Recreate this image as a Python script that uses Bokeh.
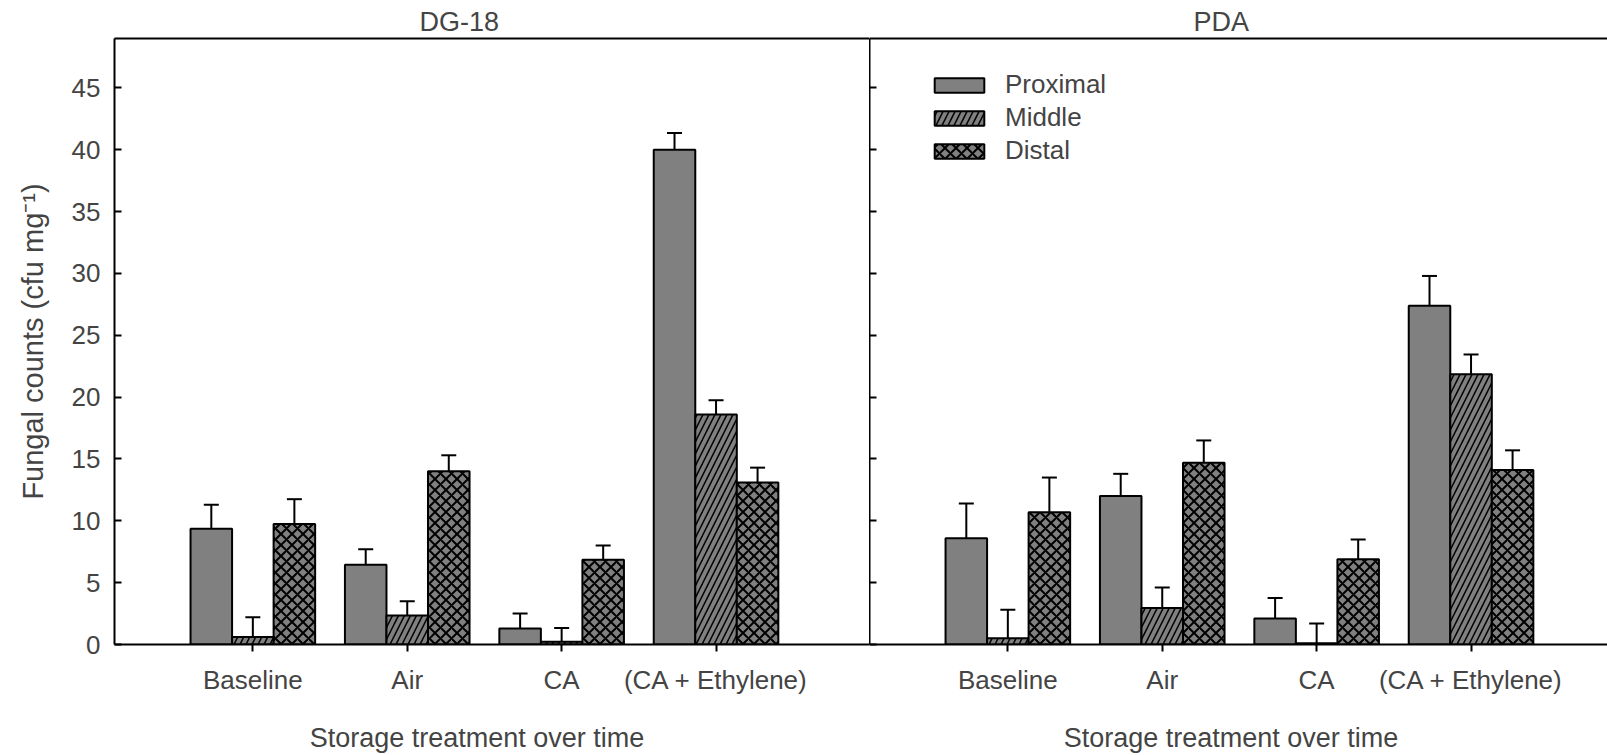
from bokeh.plotting import figure
from bokeh.models import (Range1d, FixedTicker, LinearAxis, Whisker, TeeHead,
                          ColumnDataSource, Legend, LegendItem)
from bokeh.layouts import row
from bokeh.embed import file_html
from bokeh.resources import INLINE

FONT = "Liberation Sans"
TICK_PX = "26px"
TITLE_PX = "27px"
NBSP = "\u00a0"

categories = ["Baseline", "Air", "CA", "(CA + Ethylene)"]
series = ["Proximal", "Middle", "Distal"]
y_ticks = [0, 5, 10, 15, 20, 25, 30, 35, 40, 45]
x_title = "Storage treatment over time"

# DG-18 medium
dg18_proximal = [9.35, 6.45, 1.3, 40.0]
dg18_proximal_err = [1.95, 1.25, 1.2, 1.35]
dg18_middle = [0.6, 2.35, 0.23, 18.6]
dg18_middle_err = [1.6, 1.15, 1.1, 1.15]
dg18_distal = [9.75, 14.0, 6.85, 13.1]
dg18_distal_err = [2.0, 1.3, 1.15, 1.2]

# PDA medium
pda_proximal = [8.6, 12.0, 2.1, 27.4]
pda_proximal_err = [2.8, 1.8, 1.65, 2.4]
pda_middle = [0.5, 2.95, 0.1, 21.85]
pda_middle_err = [2.3, 1.65, 1.6, 1.6]
pda_distal = [10.7, 14.7, 6.9, 14.1]
pda_distal_err = [2.8, 1.8, 1.6, 1.6]

BAR_W = 0.269
X_START = 0.104
PX_PER_UNIT = 154.4
STYLES = {
    "Proximal": dict(hatch_pattern=" ", hatch_scale=8, hatch_weight=1),
    "Middle": dict(hatch_pattern="/", hatch_scale=12, hatch_weight=1.5),
    "Distal": dict(hatch_pattern="x", hatch_scale=11, hatch_weight=2.0),
}


def frame_line_axis():
    # an axis with no ticks or labels, used only for the frame's top edge
    return LinearAxis(ticker=FixedTicker(ticks=[]), axis_line_width=2,
                      major_tick_in=0, major_tick_out=0,
                      minor_tick_in=0, minor_tick_out=0,
                      major_label_standoff=0)


def panel(title, title_offset, xlabel_pad, data, width, left_border, x_end,
          show_y_labels):
    p = figure(width=width, height=755, x_range=Range1d(X_START, x_end),
               y_range=Range1d(0, 49), output_backend="svg",
               toolbar_location=None, min_border_left=left_border,
               min_border_right=0, min_border_top=38, min_border_bottom=111,
               outline_line_color=None, background_fill_color="white",
               border_fill_color="white")
    p.grid.visible = False

    xa = p.below[0]
    ya = p.left[0]

    p.title.text = title
    p.title.align = "left"
    p.title.offset = title_offset
    p.title.text_font = FONT
    p.title.text_font_size = TITLE_PX
    p.title.text_font_style = "normal"
    p.title.standoff = 4

    p.add_layout(frame_line_axis(), "above")

    # x axis: one tick under each treatment group
    xa.ticker = FixedTicker(ticks=[1, 2, 3, 4])
    xa.major_label_overrides = {i + 1: c for i, c in enumerate(categories)}
    xa.major_tick_in = 0
    xa.major_tick_out = 7
    xa.minor_tick_out = 0
    xa.minor_tick_in = 0
    xa.axis_line_width = 2
    xa.major_tick_line_width = 2
    xa.major_label_text_font = FONT
    xa.major_label_text_font_size = TICK_PX
    xa.major_label_standoff = 13
    # trailing no-break spaces nudge the centred title slightly left
    xa.axis_label = x_title + NBSP * xlabel_pad
    xa.axis_label_text_font = FONT
    xa.axis_label_text_font_size = TITLE_PX
    xa.axis_label_text_font_style = "normal"
    xa.axis_label_standoff = 25

    # y axis: ticks pointing into the frame
    ya.ticker = FixedTicker(ticks=y_ticks)
    ya.major_tick_in = 7
    ya.major_tick_out = 0
    ya.minor_tick_in = 0
    ya.minor_tick_out = 0
    ya.axis_line_width = 2
    ya.major_tick_line_width = 2
    if show_y_labels:
        ya.major_label_text_font = FONT
        ya.major_label_text_font_size = TICK_PX
        ya.major_label_standoff = 14
        ya.axis_label = "Fungal counts (cfu mg\u207b\u00b9)"
        ya.axis_label_text_font = FONT
        ya.axis_label_text_font_size = "29px"
        ya.axis_label_text_font_style = "normal"
        ya.axis_label_standoff = 20
    else:
        ya.major_label_overrides = {t: "" for t in y_ticks}
        ya.major_label_standoff = 0

    renderers = {}
    for k, name in enumerate(series):
        vals, errs = data[name]
        xs = [i + 1 + (k - 1) * BAR_W for i in range(len(categories))]
        src = ColumnDataSource(dict(
            x=xs, top=vals, up=[v + e for v, e in zip(vals, errs)]))
        p.add_layout(Whisker(source=src, base="x", lower="top", upper="up",
                             dimension="height", line_width=2,
                             line_color="black", lower_head=None,
                             upper_head=TeeHead(size=15, line_width=2,
                                                line_color="black")))
        renderers[name] = p.vbar(x="x", top="top", bottom=0, width=BAR_W,
                                 source=src, fill_color="#808080",
                                 line_color="black", line_width=2,
                                 hatch_color="black", **STYLES[name])
    return p, renderers


left, _ = panel("DG-18", 305, 4,
                {"Proximal": (dg18_proximal, dg18_proximal_err),
                 "Middle": (dg18_middle, dg18_middle_err),
                 "Distal": (dg18_distal, dg18_distal_err)},
                width=869, left_border=114,
                x_end=X_START + 755 / PX_PER_UNIT, show_y_labels=True)

right, rr = panel("PDA", 324, 2,
                  {"Proximal": (pda_proximal, pda_proximal_err),
                   "Middle": (pda_middle, pda_middle_err),
                   "Distal": (pda_distal, pda_distal_err)},
                  width=738, left_border=0,
                  x_end=X_START + 738 / PX_PER_UNIT, show_y_labels=False)

legend = Legend(items=[LegendItem(label=n, renderers=[rr[n]]) for n in series],
                location=(59, 478), glyph_width=62, glyph_height=18,
                label_standoff=15, spacing=2, padding=0, margin=0,
                border_line_alpha=0, background_fill_alpha=0,
                label_text_font=FONT, label_text_font_size=TICK_PX)
right.add_layout(legend, "center")

layout = row(left, right, spacing=0)
open("out.html", "w").write(file_html(layout, INLINE))
